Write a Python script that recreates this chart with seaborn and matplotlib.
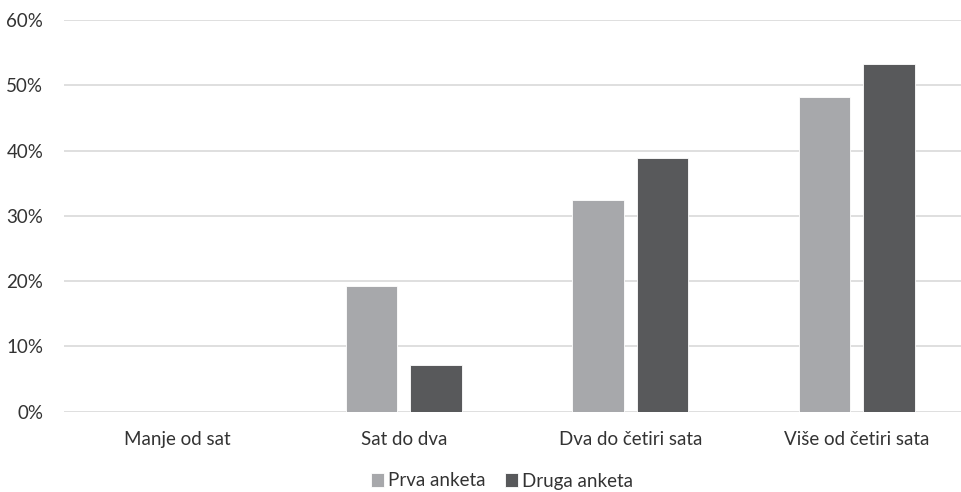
import matplotlib
matplotlib.use("Agg")
import matplotlib.pyplot as plt
import seaborn as sns
import pandas as pd
from matplotlib.ticker import PercentFormatter

categories = ["Manje od sat", "Sat do dva", "Dva do četiri sata", "Više od četiri sata"]
series_names = ["Prva anketa", "Druga anketa"]
prva = [0.0, 19.3, 32.4, 48.2]
druga = [0.0, 7.2, 38.8, 53.3]
colors = ["#A7A8AB", "#58595B"]

df = pd.DataFrame({
    "cat": categories * 2,
    "series": [series_names[0]] * 4 + [series_names[1]] * 4,
    "val": [v / 100 for v in prva + druga],
})

sns.set_theme(style="white")
plt.rcParams["font.family"] = ["Lato", "DejaVu Sans"]

W, H = 962, 492
fig = plt.figure(figsize=(W / 100, H / 100), dpi=100)
ax = fig.add_axes([64 / W, 80.3 / H, 906 / W, 391.7 / H])

sns.barplot(data=df, x="cat", y="val", hue="series", palette=colors,
            width=0.568, gap=0.2, ax=ax, legend=True, saturation=1,
            edgecolor="white", linewidth=0.6)

ax.set_ylim(0, 0.6)
ax.set_yticks([0, 0.1, 0.2, 0.3, 0.4, 0.5, 0.6])
ax.yaxis.set_major_formatter(PercentFormatter(1.0, decimals=0))
ax.grid(axis="y", color="#D9D9D9", linewidth=1.2)
ax.set_axisbelow(True)
for s in ax.spines.values():
    s.set_visible(False)
ax.set_xlabel("")
ax.set_ylabel("")
ax.tick_params(axis="y", length=0, pad=15, labelsize=13.5, labelcolor="#333333")
ax.tick_params(axis="x", length=0, pad=14, labelsize=13.5, labelcolor="#333333")

handles, labels = ax.get_legend_handles_labels()
ax.legend_.remove()
fig.legend(handles, labels, loc="center", bbox_to_anchor=(502 / W, 1 - 481 / H),
           ncol=2, frameon=False, fontsize=13.5, handlelength=0.7, handleheight=0.7,
           handletextpad=0.25, columnspacing=1.0, labelcolor="#333333")

fig.savefig("out.png", dpi=100)
